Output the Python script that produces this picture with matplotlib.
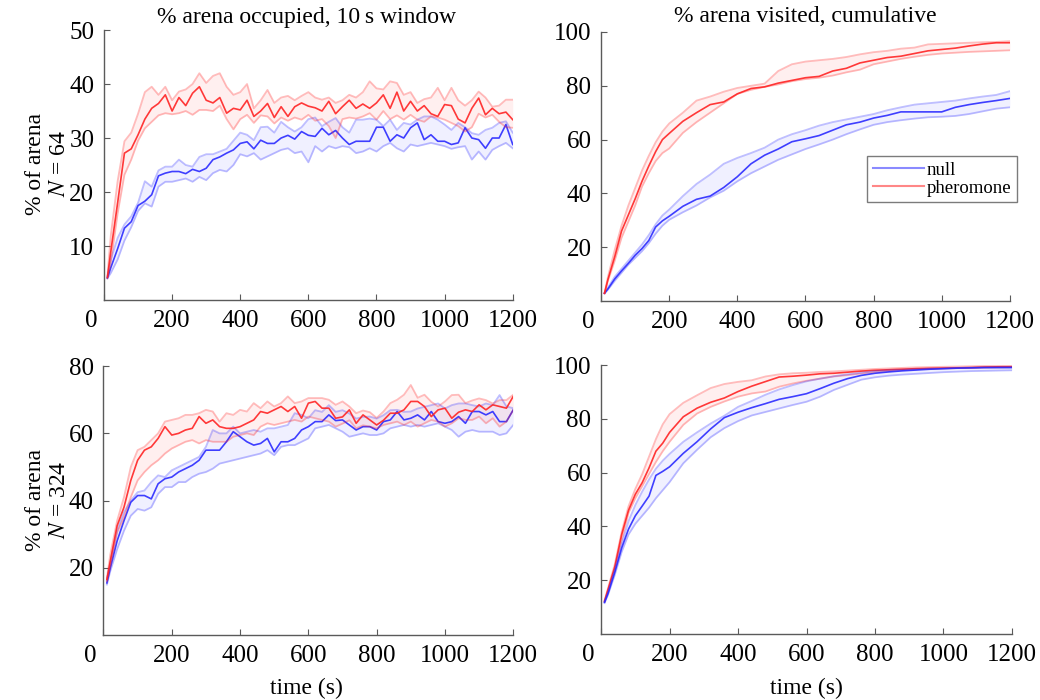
import matplotlib
matplotlib.use("Agg")
import matplotlib.pyplot as plt
import matplotlib.transforms as mtransforms
from matplotlib.lines import Line2D

plt.rcParams["font.family"] = ["Liberation Serif", "DejaVu Serif"]
plt.rcParams["mathtext.fontset"] = "stix"

# time axes (s)
t_occ = [10] + list(range(20, 1201, 20))
t_cum = [10, 20, 40, 60, 80, 100, 120, 140, 160, 180, 200, 240, 280, 320, 360,
         400, 440, 480, 520, 560, 600, 640, 680, 720, 760, 800, 840, 880, 920,
         960, 1000, 1040, 1080, 1120, 1160, 1200]

# ---- N = 64, % arena occupied (10 s window) ----
occ64_null_mean = [4.1, 6.0, 9.5, 13.3, 14.5, 17.5, 18.3, 19.5, 23.0, 23.5,
                   23.8, 23.8, 23.4, 24.2, 23.8, 24.4, 26.0, 26.5, 27.2, 27.8,
                   29.0, 29.3, 28.0, 29.6, 29.0, 29.0, 30.0, 30.5, 29.8, 31.2,
                   30.5, 30.3, 31.8, 30.6, 31.4, 30.0, 28.8, 29.4, 29.4, 29.4,
                   32.0, 32.0, 29.4, 30.6, 30.0, 31.9, 32.8, 29.7, 30.6, 29.4,
                   29.4, 28.8, 29.1, 31.9, 30.0, 29.7, 28.1, 30.0, 30.0, 32.5,
                   28.8]
occ64_null_hi = [4.3, 7.5, 11.5, 14.0, 15.5, 18.0, 22.0, 21.0, 24.0, 24.7,
                 24.7, 26.0, 25.0, 24.7, 26.5, 27.0, 27.0, 27.5, 28.0, 29.5,
                 31.0, 30.6, 29.6, 32.0, 32.1, 31.0, 33.0, 32.0, 31.2, 32.0,
                 33.5, 33.8, 32.2, 33.0, 33.7, 32.0, 31.0, 33.4, 33.4, 33.6,
                 33.4, 32.2, 33.4, 31.5, 32.8, 32.5, 33.4, 34.0, 34.0, 33.4,
                 32.5, 31.5, 32.8, 32.0, 30.9, 30.6, 31.5, 31.9, 32.8, 33.1,
                 31.0]
occ64_null_lo = [4.0, 5.0, 7.5, 11.0, 13.5, 16.5, 17.9, 17.3, 21.0, 21.9,
                 21.9, 22.2, 22.5, 21.9, 22.8, 22.2, 23.5, 24.1, 23.8, 25.0,
                 27.0, 26.6, 27.2, 26.0, 26.6, 27.2, 27.8, 28.1, 27.2, 27.5,
                 25.5, 28.5, 27.5, 28.5, 28.1, 28.5, 28.3, 27.2, 27.5, 28.1,
                 27.5, 28.5, 29.1, 28.1, 27.5, 28.8, 28.5, 28.8, 29.1, 28.8,
                 28.5, 28.0, 28.3, 28.5, 26.0, 27.5, 26.0, 27.8, 28.5, 29.1,
                 28.1]
occ64_pher_mean = [4.2, 9.0, 18.0, 27.2, 28.0, 30.6, 33.5, 35.5, 36.4, 38.0,
                   35.0, 37.5, 36.0, 38.3, 39.5, 37.0, 36.5, 37.5, 34.6, 35.5,
                   35.2, 37.0, 34.0, 35.0, 36.4, 33.8, 35.8, 34.0, 35.8, 36.5,
                   35.9, 35.6, 35.0, 36.8, 34.5, 35.8, 37.0, 35.5, 36.3, 35.5,
                   36.5, 38.0, 35.5, 38.5, 35.0, 36.8, 35.0, 36.0, 34.5, 34.0,
                   36.2, 36.0, 33.5, 32.8, 35.5, 37.4, 34.3, 35.5, 34.5, 34.8,
                   33.4]
occ64_pher_hi = [4.5, 12.0, 22.0, 29.4, 31.0, 34.5, 38.5, 39.5, 38.0, 39.5,
                 37.0, 38.6, 39.0, 40.0, 42.0, 40.2, 41.5, 42.0, 39.5, 38.0,
                 38.5, 40.0, 35.5, 37.0, 38.9, 36.5, 37.5, 37.8, 37.0, 37.8,
                 38.5, 37.5, 37.1, 37.5, 36.5, 37.0, 38.0, 37.5, 38.5, 40.5,
                 39.2, 39.0, 40.5, 40.2, 38.0, 38.5, 36.5, 37.2, 37.5, 39.3,
                 37.0, 39.3, 37.0, 36.0, 37.0, 38.6, 37.5, 35.8, 36.0, 37.1,
                 37.1]
occ64_pher_lo = [4.0, 7.0, 16.0, 23.2, 26.0, 29.5, 31.8, 33.0, 34.2, 34.6,
                 34.4, 34.6, 35.0, 34.3, 35.2, 35.2, 35.0, 36.0, 33.5, 31.6,
                 33.5, 34.3, 32.8, 34.2, 34.0, 32.7, 33.8, 33.2, 33.8, 33.4,
                 34.3, 33.2, 33.5, 32.2, 30.0, 33.5, 33.8, 33.6, 34.0, 34.6,
                 33.4, 35.0, 33.5, 34.2, 33.4, 34.3, 33.4, 33.0, 34.0, 33.8,
                 33.4, 32.8, 32.2, 31.2, 32.0, 34.5, 33.8, 34.3, 33.0, 32.0,
                 31.9]

# ---- N = 64, % arena visited (cumulative) ----
cum64_null_mean = [2.9, 4.5, 8.2, 11.2, 14.0, 17.0, 19.5, 22.5, 27.5, 29.8,
                   31.5, 35.2, 37.8, 39.0, 42.2, 46.2, 51.0, 54.2, 56.5, 59.2,
                   60.3, 61.5, 63.5, 65.5, 66.5, 68.0, 69.0, 70.3, 70.3, 70.3,
                   70.3, 72.0, 73.0, 73.8, 74.5, 75.3]
cum64_null_hi = [3.0, 5.0, 9.0, 12.0, 15.0, 18.0, 21.0, 24.5, 28.5, 31.8,
                 34.0, 39.0, 43.5, 47.0, 51.0, 53.2, 55.0, 57.0, 60.0, 62.0,
                 63.5, 65.2, 66.5, 67.5, 68.5, 69.5, 70.9, 72.0, 73.0, 73.5,
                 74.0, 74.5, 75.3, 76.0, 76.6, 78.0]
cum64_null_lo = [2.8, 4.2, 7.5, 10.5, 13.5, 16.0, 18.5, 21.5, 25.0, 28.0,
                 30.2, 33.0, 35.5, 38.5, 41.0, 44.5, 47.5, 50.0, 52.5, 54.5,
                 56.5, 58.2, 60.0, 62.0, 63.8, 65.5, 66.5, 67.2, 67.8, 68.3,
                 68.5, 68.8, 69.5, 70.5, 71.5, 72.0]
cum64_pher_mean = [2.9, 8.0, 16.5, 26.0, 32.0, 38.0, 44.5, 50.2, 55.5, 60.0,
                   62.3, 66.8, 70.0, 73.0, 74.0, 77.0, 79.0, 79.6, 81.0, 82.0,
                   83.0, 83.5, 85.5, 86.5, 88.5, 89.5, 90.5, 91.0, 92.0, 93.0,
                   93.5, 94.0, 94.8, 95.5, 96.0, 96.0]
cum64_pher_hi = [3.0, 9.0, 19.0, 28.0, 35.5, 42.0, 48.5, 54.0, 59.0, 63.0,
                 66.0, 70.0, 74.5, 76.0, 77.8, 79.2, 80.0, 80.8, 85.5, 88.0,
                 89.0, 89.5, 90.0, 90.7, 91.7, 92.5, 93.0, 93.8, 94.2, 95.4,
                 95.6, 95.8, 96.0, 96.2, 96.3, 96.6]
cum64_pher_lo = [2.8, 7.5, 15.0, 23.5, 29.5, 35.5, 42.5, 47.5, 52.0, 55.0,
                 56.7, 62.5, 66.5, 70.0, 73.5, 77.0, 78.5, 79.6, 80.5, 81.7,
                 82.5, 83.0, 83.8, 85.0, 86.0, 88.0, 89.0, 90.0, 90.8, 91.5,
                 92.0, 92.3, 92.6, 92.8, 93.0, 93.2]

# ---- N = 324, % arena occupied (10 s window) ----
occ324_null_mean = [15.5, 20.0, 28.0, 34.0, 39.5, 41.5, 41.5, 40.5, 45.0, 46.5,
                    47.0, 48.5, 49.5, 50.5, 52.0, 55.0, 55.0, 55.0, 57.5, 60.5,
                    59.0, 57.5, 56.5, 57.0, 58.5, 54.5, 57.5, 57.5, 58.5, 61.0,
                    62.0, 63.5, 63.5, 65.5, 63.8, 64.0, 62.5, 61.0, 62.0, 62.0,
                    61.0, 63.5, 64.0, 66.5, 64.0, 64.5, 65.5, 64.0, 66.5, 63.5,
                    63.0, 63.5, 65.0, 63.0, 66.5, 66.5, 65.5, 66.5, 63.5, 63.5,
                    67.0]
occ324_null_hi = [16.5, 21.5, 31.0, 36.5, 40.0, 42.5, 43.0, 45.5, 47.5, 47.0,
                  49.0, 50.0, 51.0, 52.0, 53.0, 56.0, 61.0, 60.0, 60.0, 62.0,
                  60.0, 60.5, 61.0, 60.5, 61.5, 61.5, 62.0, 62.5, 66.0, 65.5,
                  64.5, 66.9, 66.4, 68.4, 66.4, 66.9, 65.9, 64.4, 64.9, 65.0,
                  64.4, 65.4, 66.9, 67.0, 66.4, 66.5, 67.4, 67.9, 68.4, 68.9,
                  67.4, 68.4, 68.9, 68.9, 68.4, 68.0, 68.9, 68.4, 71.4, 68.0,
                  67.5]
occ324_null_lo = [15.0, 19.0, 25.5, 31.0, 35.5, 37.5, 37.0, 38.0, 42.0, 44.0,
                  44.0, 45.5, 45.5, 47.0, 48.0, 48.5, 49.5, 51.0, 51.5, 52.0,
                  52.5, 53.0, 53.5, 54.0, 55.0, 53.5, 56.0, 56.5, 56.5, 57.5,
                  58.5, 61.5, 62.0, 62.5, 61.5, 60.5, 59.0, 59.5, 60.0, 59.5,
                  59.5, 60.0, 61.5, 62.0, 62.5, 62.0, 62.5, 62.0, 62.5, 63.0,
                  62.0, 61.0, 59.0, 60.5, 61.0, 60.5, 60.5, 60.5, 59.5, 60.0,
                  62.5]
occ324_pher_mean = [16.5, 22.0, 32.5, 38.0, 46.0, 52.0, 55.0, 56.0, 58.5, 62.0,
                    59.5, 60.0, 61.0, 61.5, 65.0, 63.0, 64.0, 62.0, 61.5, 61.5,
                    62.0, 63.0, 64.0, 66.5, 66.0, 67.0, 68.0, 66.5, 68.0, 64.5,
                    69.0, 69.5, 67.5, 67.5, 64.5, 64.9, 67.0, 63.0, 65.5, 64.0,
                    62.5, 63.9, 66.0, 66.0, 67.0, 69.5, 69.5, 68.0, 65.0, 67.0,
                    67.5, 64.5, 66.3, 67.0, 66.5, 68.5, 67.0, 68.5, 68.0, 67.5,
                    71.0]
occ324_pher_hi = [17.0, 24.0, 34.0, 41.0, 50.0, 55.0, 56.0, 58.0, 60.0, 63.5,
                  64.0, 64.5, 65.5, 65.5, 66.0, 67.0, 66.5, 63.5, 66.0, 65.5,
                  67.0, 66.5, 69.0, 67.5, 69.5, 68.0, 69.0, 71.0, 69.0, 69.5,
                  70.5, 70.5, 70.5, 70.0, 68.5, 69.5, 68.0, 66.0, 66.8, 66.3,
                  64.6, 66.5, 69.0, 70.0, 71.5, 74.4, 70.6, 71.5, 69.4, 68.0,
                  69.5, 71.4, 71.5, 69.0, 69.8, 70.4, 69.9, 68.9, 69.9, 69.9,
                  71.5]
occ324_pher_lo = [16.0, 20.5, 30.5, 35.0, 41.0, 46.0, 48.5, 50.5, 52.0, 54.0,
                  55.5, 56.5, 57.5, 58.0, 57.0, 58.0, 57.5, 57.5, 57.5, 59.0,
                  59.5, 60.0, 59.5, 62.0, 63.0, 62.5, 63.0, 63.5, 64.0, 63.5,
                  65.0, 64.5, 64.0, 63.5, 62.0, 62.9, 63.9, 61.5, 62.4, 62.0,
                  61.5, 62.5, 63.0, 63.5, 62.5, 63.5, 62.0, 63.0, 64.0, 63.5,
                  62.0, 63.0, 64.5, 64.0, 64.0, 65.0, 63.0, 64.5, 62.0, 63.5,
                  66.9]

# ---- N = 324, % arena visited (cumulative) ----
cum324_null_mean = [11.8, 15.0, 23.0, 32.0, 39.0, 44.0, 47.6, 51.3, 59.0, 60.5,
                    62.2, 67.2, 71.5, 76.3, 80.5, 82.5, 84.2, 85.7, 87.3, 88.3,
                    89.4, 91.3, 93.3, 95.0, 96.2, 97.0, 97.5, 97.9, 98.2, 98.5,
                    98.7, 98.9, 99.0, 99.1, 99.1, 99.1]
cum324_null_hi = [12.0, 15.5, 24.0, 33.5, 42.0, 48.0, 53.0, 57.5, 61.5, 64.5,
                  67.0, 71.5, 75.0, 78.3, 81.2, 84.5, 86.7, 89.0, 91.0, 92.6,
                  94.0, 95.0, 95.9, 96.6, 97.2, 97.8, 98.1, 98.3, 98.5, 98.7,
                  98.8, 99.0, 99.1, 99.2, 99.3, 99.4]
cum324_null_lo = [11.5, 14.5, 22.0, 30.5, 37.0, 41.0, 44.0, 47.0, 50.5, 53.5,
                  56.5, 63.5, 68.5, 73.2, 76.6, 79.2, 81.3, 82.6, 83.9, 85.2,
                  86.4, 88.3, 90.8, 92.7, 94.6, 95.5, 96.1, 96.5, 96.8, 97.1,
                  97.4, 97.6, 97.8, 97.9, 98.0, 98.1]
cum324_pher_mean = [12.2, 16.5, 25.0, 37.0, 46.0, 52.0, 56.3, 61.8, 68.0, 71.0,
                    75.0, 80.8, 84.0, 86.2, 87.8, 90.2, 92.2, 93.9, 95.6, 95.9,
                    96.3, 96.8, 97.0, 97.4, 97.8, 98.1, 98.3, 98.5, 98.7, 98.8,
                    98.9, 99.0, 99.1, 99.3, 99.4, 99.4]
cum324_pher_hi = [12.5, 17.0, 26.0, 38.0, 47.5, 54.0, 59.5, 66.0, 72.5, 78.0,
                  81.8, 86.0, 88.8, 91.5, 93.0, 93.8, 94.4, 95.8, 96.6, 97.0,
                  97.2, 97.5, 97.7, 98.0, 98.3, 98.6, 98.8, 99.0, 99.2, 99.3,
                  99.4, 99.5, 99.6, 99.7, 99.7, 99.8]
cum324_pher_lo = [12.0, 16.0, 24.0, 35.0, 45.0, 50.5, 55.0, 59.5, 64.0, 68.0,
                  71.5, 77.8, 82.0, 84.5, 86.5, 88.3, 89.5, 90.2, 92.0, 93.2,
                  94.2, 95.0, 95.8, 96.3, 96.9, 97.4, 97.8, 98.2, 98.5, 98.7,
                  98.8, 98.9, 99.0, 99.1, 99.2, 99.3]

BLUE = "#2b2bff"
RED = "#ff2424"
GREY = "#5a5a5a"


def draw_group(ax, t, mean, lo, hi, color):
    ax.fill_between(t, lo, hi, color=color, alpha=0.07, linewidth=0)
    ax.plot(t, lo, color=color, alpha=0.3, linewidth=1.3)
    ax.plot(t, hi, color=color, alpha=0.3, linewidth=1.3)
    ax.plot(t, mean, color=color, alpha=0.9, linewidth=1.2)


def style_axes(ax, ymax, yticks):
    ax.set_xlim(0, 1200)
    ax.set_ylim(0, ymax)
    ax.set_xticks(range(0, 1201, 200))
    ax.set_yticks(yticks)
    for side in ["top", "right"]:
        ax.spines[side].set_visible(False)
    for side in ["left", "bottom"]:
        ax.spines[side].set_color(GREY)
        ax.spines[side].set_linewidth(1.0)
    ax.tick_params(direction="in", length=4, width=0.8, color=GREY,
                   labelsize=18, pad=7)
    # the "0" label sits left of the corner, as in the original
    lab = ax.get_xticklabels()[0]
    off = mtransforms.ScaledTranslation(-0.13, 0, ax.figure.dpi_scale_trans)
    lab.set_transform(lab.get_transform() + off)


fig = plt.figure(figsize=(10.4, 7), dpi=100)
ax_tl = fig.add_axes([0.1, 0.5714, 0.393, 0.3857])
ax_tr = fig.add_axes([0.578, 0.570, 0.393, 0.3843])
ax_bl = fig.add_axes([0.0995, 0.0929, 0.394, 0.384])
ax_br = fig.add_axes([0.578, 0.0943, 0.395, 0.384])

draw_group(ax_tl, t_occ, occ64_null_mean, occ64_null_lo, occ64_null_hi, BLUE)
draw_group(ax_tl, t_occ, occ64_pher_mean, occ64_pher_lo, occ64_pher_hi, RED)
style_axes(ax_tl, 50, [10, 20, 30, 40, 50])

draw_group(ax_tr, t_cum, cum64_null_mean, cum64_null_lo, cum64_null_hi, BLUE)
draw_group(ax_tr, t_cum, cum64_pher_mean, cum64_pher_lo, cum64_pher_hi, RED)
style_axes(ax_tr, 100, [20, 40, 60, 80, 100])

draw_group(ax_bl, t_occ, occ324_null_mean, occ324_null_lo, occ324_null_hi, BLUE)
draw_group(ax_bl, t_occ, occ324_pher_mean, occ324_pher_lo, occ324_pher_hi, RED)
style_axes(ax_bl, 80, [20, 40, 60, 80])

draw_group(ax_br, t_cum, cum324_pher_mean, cum324_pher_lo, cum324_pher_hi, RED)
draw_group(ax_br, t_cum, cum324_null_mean, cum324_null_lo, cum324_null_hi, BLUE)
style_axes(ax_br, 100, [20, 40, 60, 80, 100])

handles = [Line2D([], [], color=BLUE, alpha=0.55, linewidth=1.5),
           Line2D([], [], color=RED, alpha=0.55, linewidth=1.5)]
leg = ax_tr.legend(handles, ["null", "pheromone"], loc="upper right",
                   bbox_to_anchor=(1.017, 0.539), borderaxespad=0,
                   fancybox=False, fontsize=13.5, handlelength=2.7,
                   handletextpad=0.15, labelspacing=0.05, borderpad=0.3)
leg.get_frame().set_edgecolor(GREY)
leg.get_frame().set_linewidth(1.0)

fig.text(0.295, 1 - 17 / 700, "% arena occupied, 10\u2009s window",
         ha="center", va="center", fontsize=17)
fig.text(0.774, 1 - 17 / 700, "% arena visited, cumulative",
         ha="center", va="center", fontsize=17)

fig.text(0.046, 1 - 164 / 700, "% of arena\n$N$ = 64", rotation=90,
         ha="center", va="center", fontsize=17, multialignment="center")
fig.text(0.046, 1 - 500 / 700, "% of arena\n$N$ = 324", rotation=90,
         ha="center", va="center", fontsize=17, multialignment="center")

fig.text(0.295, 1 - 688 / 700, "time (s)", ha="center", va="center", fontsize=17)
fig.text(0.775, 1 - 688 / 700, "time (s)", ha="center", va="center", fontsize=17)

fig.savefig("out.png", dpi=100)
